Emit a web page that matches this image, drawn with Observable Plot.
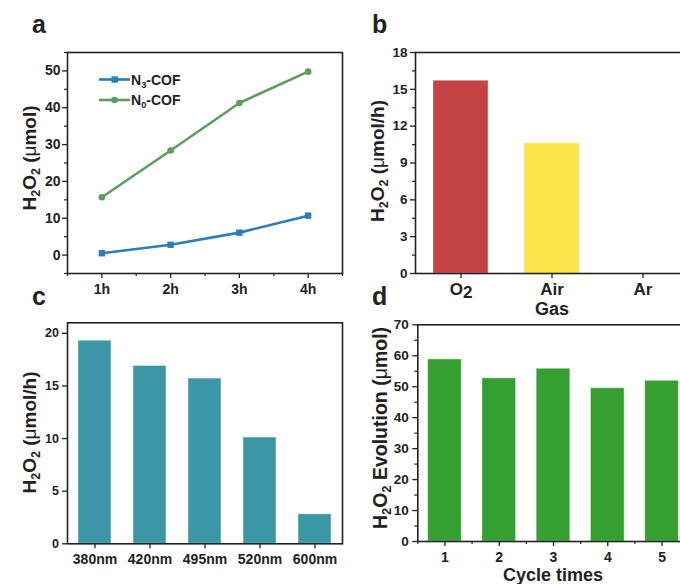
<!DOCTYPE html>
<html>
<head>
<meta charset="utf-8">
<script src="https://cdn.jsdelivr.net/npm/d3@7"></script>
<script src="https://cdn.jsdelivr.net/npm/@observablehq/plot@0.6"></script>
<style>
  html, body { margin: 0; padding: 0; background: #ffffff; }
  #fig { position: relative; width: 680px; height: 584px; overflow: hidden; background: #ffffff; }
  #fig svg { position: absolute; max-width: none; }
</style>
</head>
<body>
<div id="fig"></div>
<script>
// ---------- data ----------
const hours = [1, 2, 3, 4];
const n3cof = [0.5, 2.8, 6.1, 10.7];
const n0cof = [15.7, 28.4, 41.3, 49.8];
const seriesNames = ["N3-COF", "N0-COF"];

const gases = ["O2", "Air", "Ar"];
const gasRates = [15.7, 10.6, 0];

const wavelengths = ["380nm", "420nm", "495nm", "520nm", "600nm"];
const wavelengthRates = [19.3, 16.9, 15.7, 10.1, 2.8];

const cycles = [1, 2, 3, 4, 5];
const cycleEvolution = [58.8, 52.7, 55.8, 49.5, 51.9];

// ---------- ticks ----------
const aXTicks = [1, 2, 3, 4];
const aXMinor = [0.5, 1.5, 2.5, 3.5, 4.5];
const aYTicks = [0, 10, 20, 30, 40, 50];
const aYMinor = [-5, 5, 15, 25, 35, 45, 55];
const bYTicks = [0, 3, 6, 9, 12, 15, 18];
const bYMinor = [1.5, 4.5, 7.5, 10.5, 13.5, 16.5];
const cYTicks = [0, 5, 10, 15, 20];
const dXMinor = [0.5, 1.5, 2.5, 3.5, 4.5, 5.5];
const dYTicks = [0, 10, 20, 30, 40, 50, 60, 70];
const dYMinor = [5, 15, 25, 35, 45, 55, 65];

// ---------- styles ----------
const INK = "#222222";
const FONT = "'Liberation Sans', Arial, Helvetica, sans-serif";
const lineColors = ["#2d7db8", "#5e9e5c"];
const gasColors = ["#c44343", "#fde64b", "#7f7f7f"];
const tealColor = "#3b97a6";
const greenColor = "#35a02f";

const fig = document.getElementById("fig");
function baseStyle(fs) {
  return { fontFamily: FONT, fontWeight: "bold", fontSize: fs + "px", color: INK, background: "transparent", overflow: "visible" };
}
function place(svg, left, top) {
  svg.style.left = left + "px";
  svg.style.top = top + "px";
  svg.style.maxWidth = "none";
  fig.appendChild(svg);
  return svg;
}
const frame = () => Plot.frame({ stroke: INK, strokeWidth: 1.6 });

// ---------- panel a ----------
const lineTable = [];
hours.forEach((h, i) => lineTable.push({ h, v: n3cof[i], s: seriesNames[0] }));
hours.forEach((h, i) => lineTable.push({ h, v: n0cof[i], s: seriesNames[1] }));

const pa = Plot.plot({
  width: 345, height: 300,
  marginLeft: 67, marginRight: 3, marginTop: 52, marginBottom: 27,
  x: { domain: [0.5, 4.5], axis: null },
  y: { domain: [-5, 55], axis: null },
  color: { domain: seriesNames, range: lineColors },
  style: baseStyle(14),
  marks: [
    Plot.line(lineTable, { x: "h", y: "v", z: "s", stroke: "s", strokeWidth: 2.6 }),
    Plot.dot(lineTable.filter(d => d.s === seriesNames[0]), { x: "h", y: "v", fill: "s", symbol: "square", r: 3.6 }),
    Plot.dot(lineTable.filter(d => d.s === seriesNames[1]), { x: "h", y: "v", fill: "s", symbol: "circle", r: 3.3 }),
    frame(),
    Plot.axisX(aXTicks, { tickSize: 5, tickPadding: 6, tickFormat: d => d + "h", label: null, strokeWidth: 1.3 }),
    Plot.axisX(aXMinor, { tickSize: 3, tickFormat: () => "", label: null, strokeWidth: 1.2 }),
    Plot.axisY(aYTicks, { tickSize: 5, tickPadding: 2, label: null, strokeWidth: 1.3 }),
    Plot.axisY(aYMinor, { tickSize: 3, tickFormat: () => "", label: null, strokeWidth: 1.2 })
  ]
});
place(pa, 0, 0);

// ---------- panel b ----------
const gasTable = gases.map((g, i) => ({ g, v: gasRates[i] }));
const pb = Plot.plot({
  width: 360, height: 300,
  marginLeft: 75, marginRight: 12, marginTop: 52, marginBottom: 27,
  x: { type: "band", domain: gases, paddingInner: 0.4, paddingOuter: 0.2, axis: null },
  y: { domain: [0, 18], axis: null },
  color: { domain: gases, range: gasColors },
  style: baseStyle(17),
  marks: [
    Plot.barY(gasTable, { x: "g", y: "v", fill: "g", stroke: "#ffffff", strokeOpacity: 0.35, strokeWidth: 1 }),
    frame(),
    Plot.axisX({ tickSize: 5, tickPadding: 4.5, label: null, strokeWidth: 1.3 }),
    Plot.axisY(bYTicks, { tickSize: 5, tickPadding: 3, label: null, fontSize: 13.5, strokeWidth: 1.3 }),
    Plot.axisY(bYMinor, { tickSize: 3, tickFormat: () => "", label: null, strokeWidth: 1.2 })
  ]
});
d3.select(pb).selectAll("text").filter(function () { return this.textContent === "O2"; })
  .each(function () {
    const t = d3.select(this);
    t.text("");
    t.append("tspan").text("O");
    t.append("tspan").attr("dy", "0.15em").text("2");
  });
place(pb, 340, 0);

// ---------- panel c ----------
const wlTable = wavelengths.map((w, i) => ({ w, v: wavelengthRates[i] }));
const pc = Plot.plot({
  width: 345, height: 284,
  marginLeft: 67, marginRight: 3, marginTop: 22.3, marginBottom: 40.7,
  x: { type: "band", domain: wavelengths, paddingInner: 0.4, paddingOuter: 0.2, axis: null },
  y: { domain: [0, 21], axis: null },
  style: baseStyle(14),
  marks: [
    Plot.barY(wlTable, { x: "w", y: "v", fill: tealColor, stroke: "#ffffff", strokeOpacity: 0.45, strokeWidth: 1 }),
    frame(),
    Plot.axisX({ tickSize: 5, tickPadding: 5, label: null, strokeWidth: 1.3 }),
    Plot.axisY(cYTicks, { tickSize: 5, tickPadding: 3.5, label: null, fontSize: 12.5, strokeWidth: 1.3 })
  ]
});
place(pc, 0, 300);

// ---------- panel d ----------
const cycleTable = cycles.map((c, i) => ({ c, v: cycleEvolution[i] }));
const pd = Plot.plot({
  width: 360, height: 284,
  marginLeft: 77.3, marginRight: 11.3, marginTop: 24.3, marginBottom: 43,
  x: { domain: [0.5, 5.5], axis: null },
  y: { domain: [0, 70], axis: null },
  style: baseStyle(14),
  marks: [
    Plot.rectY(cycleTable, { x1: d => d.c - 0.31, x2: d => d.c + 0.31, y: "v", fill: greenColor, stroke: "#ffffff", strokeOpacity: 0.4, strokeWidth: 1 }),
    frame(),
    Plot.axisX(cycles, { tickSize: 5, tickPadding: 5.5, label: null, strokeWidth: 1.3 }),
    Plot.axisX(dXMinor, { tickSize: 3, tickFormat: () => "", label: null, strokeWidth: 1.2 }),
    Plot.axisY(dYTicks, { tickSize: 5, tickPadding: 4, label: null, fontSize: 13.5, strokeWidth: 1.3 }),
    Plot.axisY(dYMinor, { tickSize: 3, tickFormat: () => "", label: null, strokeWidth: 1.2 })
  ]
});
place(pd, 340, 300);

// ---------- overlay: panel letters, axis titles, legend ----------
const ov = d3.create("svg")
  .attr("width", 680).attr("height", 584)
  .style("left", "0px").style("top", "0px")
  .style("font-family", FONT).style("font-weight", "bold").style("fill", INK)
  .style("pointer-events", "none");

[["a", 32, 33], ["b", 372, 33], ["c", 32, 305], ["d", 372, 305]].forEach(([t, x, y]) =>
  ov.append("text").attr("x", x).attr("y", y).attr("font-size", 25).text(t));

function richText(g, segs, fs) {
  let shifted = false;
  segs.forEach(s => {
    const ts = g.append("tspan").text(s.t);
    if (s.sub) {
      ts.attr("font-size", fs * 0.66).attr("dy", shifted ? 0 : fs * 0.22);
      shifted = true;
    } else {
      ts.attr("font-size", fs);
      if (shifted) { ts.attr("dy", -fs * 0.22); shifted = false; }
      if (s.normal) ts.attr("font-weight", "normal");
    }
  });
}
function vTitle(x, y, segs, fs) {
  const t = ov.append("text").attr("text-anchor", "middle")
    .attr("transform", `translate(${x},${y}) rotate(-90)`);
  richText(t, segs, fs);
}
const h2o2 = [{ t: "H" }, { t: "2", sub: true }, { t: "O" }, { t: "2", sub: true }];
vTitle(35.5, 158, [...h2o2, { t: " (" }, { t: "\u03bc", normal: true }, { t: "mol)" }], 19);
vTitle(383.5, 161, [...h2o2, { t: " (" }, { t: "\u03bc", normal: true }, { t: "mol/h)" }], 19);
vTitle(35.5, 432.5, [...h2o2, { t: " (" }, { t: "\u03bc", normal: true }, { t: "mol/h)" }], 19);
vTitle(387, 428, [...h2o2, { t: " Evolution (" }, { t: "\u03bc", normal: true }, { t: "mol)" }], 19.5);

ov.append("text").attr("x", 552).attr("y", 314.5).attr("text-anchor", "middle").attr("font-size", 18).text("Gas");
ov.append("text").attr("x", 553).attr("y", 581).attr("text-anchor", "middle").attr("font-size", 18).text("Cycle times");

// legend (panel a)
const legendRows = [
  { name: seriesNames[0], label: [{ t: "N" }, { t: "3", sub: true }, { t: "-COF" }], color: lineColors[0], sym: "square", y: 79.5 },
  { name: seriesNames[1], label: [{ t: "N" }, { t: "0", sub: true }, { t: "-COF" }], color: lineColors[1], sym: "circle", y: 100 }
];
legendRows.forEach(r => {
  ov.append("line").attr("x1", 99).attr("x2", 130).attr("y1", r.y).attr("y2", r.y)
    .attr("stroke", r.color).attr("stroke-width", 2.6);
  if (r.sym === "square") ov.append("rect").attr("x", 111.5).attr("y", r.y - 3.2).attr("width", 6.4).attr("height", 6.4).attr("fill", r.color);
  else ov.append("circle").attr("cx", 114.5).attr("cy", r.y).attr("r", 3.3).attr("fill", r.color);
  const t = ov.append("text").attr("x", 131).attr("y", r.y + 5);
  richText(t, r.label, 14);
});

fig.appendChild(ov.node());
</script>
</body>
</html>
